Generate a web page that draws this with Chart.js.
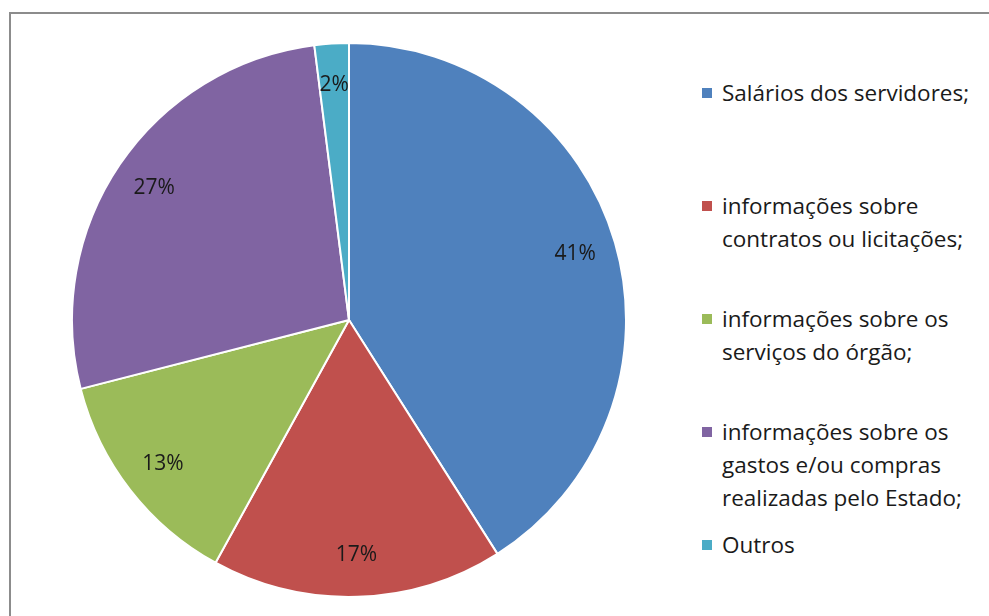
<!DOCTYPE html>
<html>
<head>
<meta charset="utf-8">
<script src="https://cdn.jsdelivr.net/npm/chart.js@4"></script>
<style>
  html, body { margin: 0; padding: 0; background: #fff; }
  body { width: 989px; height: 616px; position: relative; overflow: hidden; font-family: "Open Sans", sans-serif; }
  #frame { position: absolute; left: 9px; top: 12px; right: -20px; bottom: -20px; border-top: 2px solid #8c8c8c; border-left: 2px solid #8c8c8c; }
  #pieBox { position: absolute; left: 71px; top: 42px; width: 556px; height: 556px; }
  #legend { position: absolute; left: 701px; top: 76px; margin: 0; padding: 0; list-style: none; }
  #legend li { position: relative; height: 113px; padding-left: 21px; font-size: 22.5px; line-height: 33px; color: #1a1a1a; white-space: nowrap; }
  #legend li span { position: absolute; left: 1px; top: 12px; width: 10px; height: 10px; }
</style>
</head>
<body>
<div id="frame"></div>
<div id="pieBox"><canvas id="pieChart"></canvas></div>
<ul id="legend"></ul>

<script>
// what respondents look for (percent of answers)
const categories = [
  ['Salários dos servidores;'],
  ['informações sobre', 'contratos ou licitações;'],
  ['informações sobre os', 'serviços do órgão;'],
  ['informações sobre os', 'gastos e/ou compras', 'realizadas pelo Estado;'],
  ['Outros']
];
const percentages = [41, 17, 13, 27, 2];
const sliceColors = ['#4f81bd', '#c0504d', '#9bbb59', '#8064a2', '#4bacc6'];

// percent labels inside each slice
const sliceLabels = {
  id: 'sliceLabels',
  afterDatasetsDraw(chart) {
    const ctx = chart.ctx;
    const meta = chart.getDatasetMeta(0);
    ctx.save();
    ctx.font = '21px "Open Sans", sans-serif';
    ctx.fillStyle = '#1a1a1a';
    ctx.textAlign = 'center';
    ctx.textBaseline = 'middle';
    meta.data.forEach((arc, i) => {
      const { x, y, startAngle, endAngle, outerRadius } = arc.getProps(['x', 'y', 'startAngle', 'endAngle', 'outerRadius'], true);
      const mid = (startAngle + endAngle) / 2;
      const r = outerRadius * 0.85;
      ctx.fillText(percentages[i] + '%', x + Math.cos(mid) * r, y + Math.sin(mid) * r);
    });
    ctx.restore();
  }
};

new Chart(document.getElementById('pieChart').getContext('2d'), {
  type: 'pie',
  data: {
    labels: categories.map(c => c.join(' ')),
    datasets: [{
      data: percentages,
      backgroundColor: sliceColors,
      borderColor: '#ffffff',
      borderWidth: 2
    }]
  },
  options: {
    responsive: true,
    maintainAspectRatio: false,
    animation: false,
    layout: { padding: 0 },
    plugins: {
      legend: { display: false },
      tooltip: { enabled: false }
    }
  },
  plugins: [sliceLabels]
});

// legend on the right, wrapped like the original
const legend = document.getElementById('legend');
categories.forEach((lines, i) => {
  const li = document.createElement('li');
  const box = document.createElement('span');
  box.style.background = sliceColors[i];
  li.appendChild(box);
  li.insertAdjacentHTML('beforeend', lines.join('<br>'));
  legend.appendChild(li);
});
</script>
</body>
</html>
